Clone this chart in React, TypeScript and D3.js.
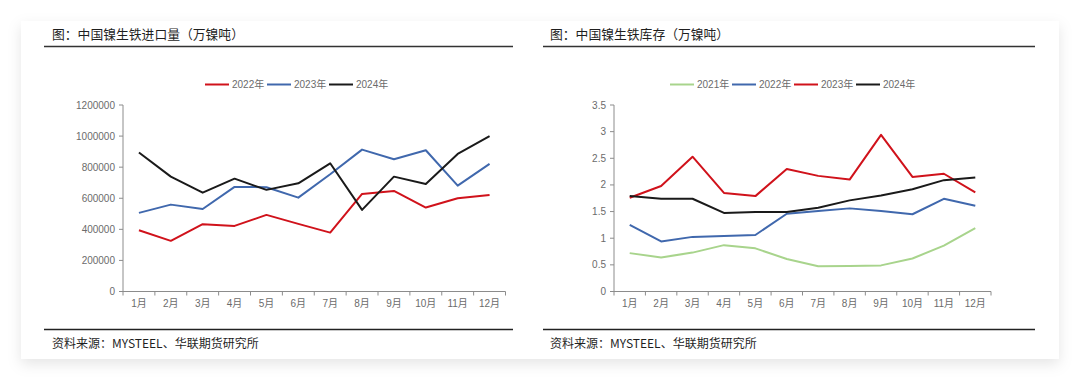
import React from "react";
import * as d3 from "d3";

const months = ["1月", "2月", "3月", "4月", "5月", "6月", "7月", "8月", "9月", "10月", "11月", "12月"];

// Left chart: imports
const importTicks = [0, 200000, 400000, 600000, 800000, 1000000, 1200000];
const import2022 = [394000, 326000, 433000, 422000, 493000, 435000, 379000, 628000, 647000, 540000, 600000, 621000];
const import2023 = [506000, 559000, 531000, 673000, 671000, 604000, 754000, 913000, 851000, 909000, 681000, 821000];
const import2024 = [894000, 739000, 636000, 726000, 654000, 696000, 825000, 525000, 739000, 692000, 885000, 999000];

// Right chart: inventory
const stockTicks = [0, 0.5, 1, 1.5, 2, 2.5, 3, 3.5];
const stock2021 = [0.72, 0.64, 0.73, 0.87, 0.81, 0.61, 0.475, 0.48, 0.49, 0.62, 0.86, 1.19];
const stock2022 = [1.25, 0.94, 1.025, 1.04, 1.06, 1.46, 1.51, 1.56, 1.51, 1.45, 1.74, 1.61];
const stock2023 = [1.76, 1.98, 2.53, 1.85, 1.79, 2.3, 2.17, 2.1, 2.94, 2.15, 2.21, 1.86];
const stock2024 = [1.79, 1.74, 1.74, 1.475, 1.49, 1.49, 1.57, 1.71, 1.8, 1.92, 2.09, 2.14];

const RED = "#d0121b";
const BLUE = "#4068ad";
const BLACK = "#1a1a1a";
const GREEN = "#a8d48c";
const AXIS = "#8c8c8c";
const LABEL = "#6b6b6b";
const FONT = "'Noto Sans CJK SC', 'Noto Sans', sans-serif";
const NUMFONT = "'Liberation Sans', Arial, 'Noto Sans CJK SC', sans-serif";

type Series = { name: string; color: string; values: number[] };

function Panel(props: {
  title: string;
  x0: number;
  lineX1: number;
  lineX2: number;
  plotLeft: number;
  plotRight: number;
  plotTop: number;
  plotBottom: number;
  ticks: number[];
  max: number;
  series: Series[];
  legendX: number;
  tickFmt: (v: number) => string;
}) {
  const { title, x0, lineX1, lineX2, plotLeft, plotRight, plotTop, plotBottom, ticks, max, series, legendX, tickFmt } = props;
  const x = d3.scaleBand<string>().domain(months).range([plotLeft, plotRight]);
  const y = d3.scaleLinear().domain([0, max]).range([plotBottom, plotTop]);
  const line = d3
    .line<number>()
    .x((_, i) => (x(months[i]) as number) + x.bandwidth() / 2)
    .y((v) => y(v));
  const legendItemW = 62;
  return (
    <g>
      <text x={x0} y={39} fontSize={12.8} fill="#1f1f1f" fontFamily={FONT}>{title}</text>
      <line x1={lineX1} x2={lineX2} y1={46.5} y2={46.5} stroke="#333" strokeWidth={1.3} />
      {series.map((s, i) => {
        const gx = legendX + i * legendItemW;
        return (
          <g key={s.name}>
            <line x1={gx} x2={gx + 24} y1={84.5} y2={84.5} stroke={s.color} strokeWidth={2} />
            <text x={gx + 27} y={88} fontSize={10} fill={LABEL} fontFamily={NUMFONT}>{s.name}</text>
          </g>
        );
      })}
      <line x1={plotLeft} x2={plotLeft} y1={plotTop} y2={plotBottom} stroke={AXIS} strokeWidth={1} />
      {ticks.map((t) => (
        <g key={t}>
          <line x1={plotLeft - 4} x2={plotLeft} y1={y(t)} y2={y(t)} stroke={AXIS} />
          <text x={plotLeft - 8} y={y(t) + 3.5} fontSize={10} textAnchor="end" fill={LABEL} fontFamily={NUMFONT}>
            {tickFmt(t)}
          </text>
        </g>
      ))}
      <line x1={plotLeft} x2={plotRight} y1={plotBottom} y2={plotBottom} stroke={AXIS} strokeWidth={1} />
      {months.map((m, i) => (
        <g key={m}>
          <line x1={x(m) as number} x2={x(m) as number} y1={plotBottom} y2={plotBottom + 4} stroke={AXIS} />
          {i === months.length - 1 && (
            <line x1={plotRight} x2={plotRight} y1={plotBottom} y2={plotBottom + 4} stroke={AXIS} />
          )}
          <text
            x={(x(m) as number) + x.bandwidth() / 2}
            y={plotBottom + 15}
            fontSize={10}
            textAnchor="middle"
            fill={LABEL}
            fontFamily={NUMFONT}
          >
            {m}
          </text>
        </g>
      ))}
      {series.map((s) => (
        <path key={s.name} d={line(s.values) || ""} fill="none" stroke={s.color} strokeWidth={2} strokeLinejoin="round" />
      ))}
      <line x1={lineX1} x2={lineX2} y1={329.5} y2={329.5} stroke="#222" strokeWidth={1.3} />
      <text x={x0} y={347.5} fontSize={12} fill="#1f1f1f" fontFamily={FONT}>资料来源：MYSTEEL、华联期货研究所</text>
    </g>
  );
}

export default function App() {
  return (
    <svg width={1080} height={380} style={{ position: "absolute", left: 0, top: 0, background: "#fff" }}>
      <defs>
        <filter id="shadow" x="-5%" y="-10%" width="110%" height="125%">
          <feDropShadow dx={0} dy={5} stdDeviation={7} floodColor="#000" floodOpacity={0.1} />
        </filter>
      </defs>
      <rect x={0} y={0} width={1080} height={380} fill="#fff" />
      <rect x={21} y={21} width={1038} height={338} fill="#fff" filter="url(#shadow)" />
      <Panel
        title="图：中国镍生铁进口量（万镍吨）"
        x0={52}
        lineX1={44}
        lineX2={513}
        plotLeft={123}
        plotRight={505.5}
        plotTop={105}
        plotBottom={291.5}
        ticks={importTicks}
        max={1200000}
        legendX={205}
        tickFmt={(v) => String(v)}
        series={[
          { name: "2022年", color: RED, values: import2022 },
          { name: "2023年", color: BLUE, values: import2023 },
          { name: "2024年", color: BLACK, values: import2024 },
        ]}
      />
      <Panel
        title="图：中国镍生铁库存（万镍吨）"
        x0={550}
        lineX1={543}
        lineX2={1035}
        plotLeft={614}
        plotRight={991}
        plotTop={105}
        plotBottom={291.5}
        ticks={stockTicks}
        max={3.5}
        legendX={670}
        tickFmt={(v) => String(v)}
        series={[
          { name: "2021年", color: GREEN, values: stock2021 },
          { name: "2022年", color: BLUE, values: stock2022 },
          { name: "2023年", color: RED, values: stock2023 },
          { name: "2024年", color: BLACK, values: stock2024 },
        ]}
      />
    </svg>
  );
}
